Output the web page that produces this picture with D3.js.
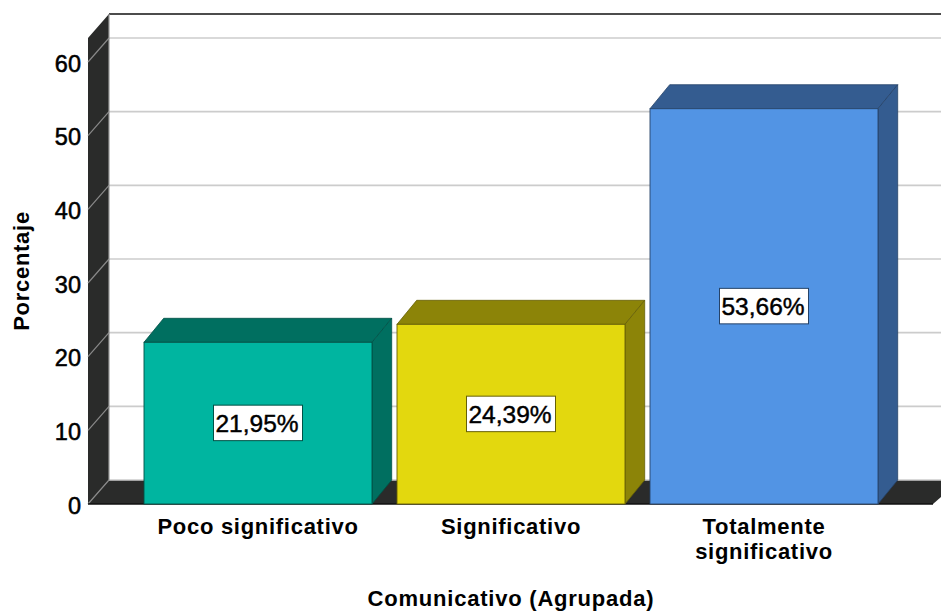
<!DOCTYPE html>
<html><head><meta charset="utf-8">
<script src="https://cdn.jsdelivr.net/npm/d3@7"></script>
<style>html,body{margin:0;padding:0;background:#fff;overflow:hidden}svg{display:block}
text{font-family:"Liberation Sans",Arial,sans-serif;fill:#000}</style></head>
<body><svg id="c" width="941" height="611"></svg>
<script>
const categories=[["Poco significativo"],["Significativo"],["Totalmente","significativo"]];
const values=[21.95,24.39,53.66];
const valueLabels=["21,95%","24,39%","53,66%"];
const yTicks=[0,10,20,30,40,50,60];
const fronts=["#00B5A0","#E3D80E","#5294E4"];
const sides=["#006F60","#8C8408","#345C90"];
const yTitle="Porcentaje", xTitle="Comunicativo (Agrupada)";

const W=941,H=611,dx=21,barDx=19.7,dy=-24,wallLeft=88;
const svg=d3.select("#c");
const y=d3.scaleLinear().domain([0,60]).range([504,62]);
const x=d3.scaleBand().domain(d3.range(values.length)).range([131.5,890.5]).paddingInner(25/253).paddingOuter(12.5/253);
const poly=p=>p.map(q=>q.join(",")).join(" ");
const wallTop=y(60)+dy-24, wallX=wallLeft+dx;

// wall and floor
svg.append("polygon").attr("points",poly([[wallLeft,wallTop-dy],[wallX,wallTop],[wallX,y(0)+dy],[wallLeft,y(0)]])).attr("fill","#2A2B2A");
svg.append("polygon").attr("points",poly([[wallLeft,y(0)],[wallX,y(0)+dy],[960,y(0)+dy],[933,y(0)]])).attr("fill","#2A2B2A");
// gridlines
const g=svg.append("g");
g.selectAll("line.b").data(yTicks).join("line").attr("class","b").attr("x1",wallX).attr("x2",W)
 .attr("y1",d=>y(d)+dy).attr("y2",d=>y(d)+dy).attr("stroke","#CCCCCC").attr("stroke-width",1.6);
g.selectAll("line.w").data(yTicks).join("line").attr("class","w").attr("x1",wallLeft).attr("x2",wallX)
 .attr("y1",d=>y(d)).attr("y2",d=>y(d)+dy).attr("stroke","#8A8A8A").attr("stroke-width",1.2);
// frame
svg.append("line").attr("x1",wallX).attr("x2",W).attr("y1",wallTop).attr("y2",wallTop).attr("stroke","#111").attr("stroke-width",1.6);
svg.append("line").attr("x1",wallX).attr("x2",wallX).attr("y1",wallTop).attr("y2",y(0)+dy).attr("stroke","#999").attr("stroke-width",1.2);
svg.append("line").attr("x1",wallLeft).attr("x2",933).attr("y1",y(0)).attr("y2",y(0)).attr("stroke","#111").attr("stroke-width",1.6);

// bars
const b=svg.selectAll("g.bar").data(values).join("g").attr("class","bar");
const edge=(i)=>d3.color(sides[i]).darker(0.9);
b.append("polygon").attr("points",(d,i)=>{const a=x(i),r=a+x.bandwidth(),t=y(d);return poly([[a,t],[a+barDx,t+dy],[r+barDx,t+dy],[r,t]]);})
 .attr("fill",(d,i)=>sides[i]).attr("stroke",(d,i)=>edge(i)).attr("stroke-width",.8);
b.append("polygon").attr("points",(d,i)=>{const r=x(i)+x.bandwidth(),t=y(d);return poly([[r,t],[r+barDx,t+dy],[r+barDx,y(0)+dy],[r,y(0)]]);})
 .attr("fill",(d,i)=>sides[i]).attr("stroke",(d,i)=>edge(i)).attr("stroke-width",.8);
b.append("rect").attr("x",(d,i)=>x(i)).attr("y",d=>y(d)).attr("width",x.bandwidth()).attr("height",d=>y(0)-y(d))
 .attr("fill",(d,i)=>fronts[i]).attr("stroke",(d,i)=>edge(i)).attr("stroke-width",.9);

// value labels
const lab=svg.selectAll("g.lab").data(values).join("g").attr("class","lab")
 .attr("transform",(d,i)=>`translate(${x(i)+x.bandwidth()/2},${(y(d)+y(0))/2})`);
lab.append("rect").attr("x",-44.5).attr("y",-18).attr("width",89).attr("height",35.5).attr("fill","#fff").attr("stroke",(d,i)=>edge(i)).attr("stroke-width",1);
lab.append("text").attr("text-anchor","middle").attr("y",8.5).attr("x",-1).attr("font-size",24.5).attr("stroke","#000").attr("stroke-width",.45).text((d,i)=>valueLabels[i]);

// y ticks
svg.selectAll("text.yt").data(yTicks).join("text").attr("class","yt").attr("text-anchor","end").attr("x",81).attr("y",d=>y(d)+9.5)
 .attr("font-size",23.5).attr("stroke","#000").attr("stroke-width",.55).text(d=>d);

// x labels
const xl=svg.selectAll("text.xl").data(categories).join("text").attr("class","xl").attr("text-anchor","middle").attr("font-size",22)
 .attr("font-weight","bold").attr("letter-spacing",.72);
xl.selectAll("tspan").data((d,i)=>d.map(s=>({s,i}))).join("tspan")
 .attr("x",d=>x(d.i)+x.bandwidth()/2).attr("y",(d,j)=>534+j*25).text(d=>d.s);

svg.append("text").attr("transform","translate(28.5,271) rotate(-90)").attr("text-anchor","middle").attr("font-size",22)
 .attr("font-weight","bold").attr("letter-spacing",.72).text(yTitle);
svg.append("text").attr("x",511).attr("y",606).attr("text-anchor","middle").attr("font-size",22)
 .attr("font-weight","bold").attr("letter-spacing",.78).text(xTitle);
</script></body></html>
